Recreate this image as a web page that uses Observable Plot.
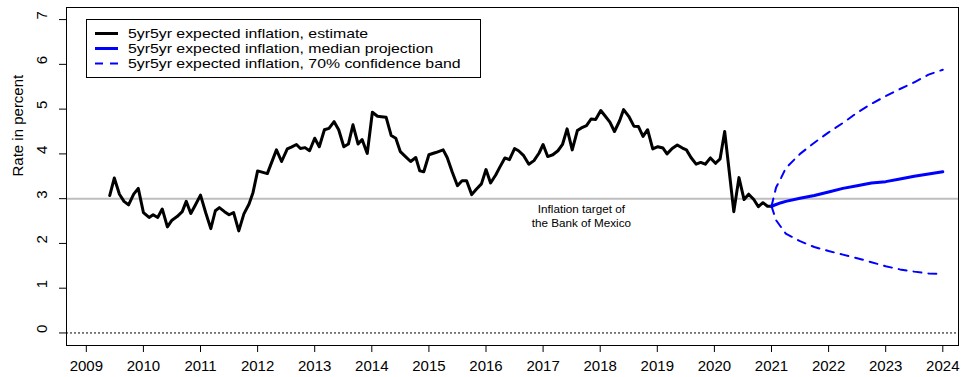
<!DOCTYPE html>
<html>
<head>
<meta charset="utf-8">
<script src="https://cdn.jsdelivr.net/npm/d3@7"></script>
<script src="https://cdn.jsdelivr.net/npm/@observablehq/plot@0.6"></script>
<style>
  body { margin: 0; background: #fff; font-family: "Liberation Sans", Arial, sans-serif; }
  #wrap { position: relative; width: 961px; height: 377px; overflow: hidden; }
  #legend { position: absolute; left: 86px; top: 19px; width: 395px; height: 59px;
            border: 1px solid #000; box-sizing: border-box; background: #fff; }
  .row { position: absolute; left: 0; height: 15px; width: 393px; }
  .row svg { position: absolute; left: 8px; top: 0; }
  .row span { position: absolute; display: block; left: 41px; top: 0; height: 15px;
              font-size: 13.2px; line-height: 15px; white-space: nowrap; color: #000;
              transform: scaleX(1.2); transform-origin: 0 50%; }
</style>
</head>
<body>
<div id="wrap"></div>
<script>
// ---- data ----
const estYear = [
  2009.41,2009.49,2009.58,2009.66,2009.74,2009.83,2009.91,2010.00,2010.10,2010.17,
  2010.25,2010.33,2010.42,2010.50,2010.59,2010.68,2010.75,2010.83,2010.91,2011.00,
  2011.09,2011.18,2011.26,2011.33,2011.42,2011.50,2011.58,2011.67,2011.76,2011.85,
  2011.92,2012.00,2012.17,2012.33,2012.42,2012.52,2012.59,2012.68,2012.75,2012.83,
  2012.91,2013.00,2013.08,2013.17,2013.25,2013.34,2013.42,2013.51,2013.59,2013.67,
  2013.76,2013.83,2013.92,2014.01,2014.10,2014.17,2014.25,2014.34,2014.42,2014.50,
  2014.59,2014.68,2014.77,2014.84,2014.91,2015.00,2015.12,2015.25,2015.32,2015.41,
  2015.50,2015.58,2015.66,2015.75,2015.83,2015.92,2016.00,2016.08,2016.17,2016.24,
  2016.33,2016.41,2016.50,2016.57,2016.66,2016.75,2016.84,2016.93,2017.00,2017.08,
  2017.17,2017.26,2017.34,2017.42,2017.51,2017.60,2017.67,2017.76,2017.84,2017.92,
  2018.01,2018.09,2018.17,2018.25,2018.34,2018.41,2018.50,2018.59,2018.67,2018.75,
  2018.83,2018.92,2019.01,2019.10,2019.17,2019.26,2019.35,2019.44,2019.51,2019.59,
  2019.68,2019.76,2019.84,2019.93,2020.02,2020.10,2020.18,2020.34,2020.43,2020.52,
  2020.60,2020.69,2020.77,2020.85,2020.93,2021.01
];
const estValue = [
  3.07,3.46,3.10,2.94,2.86,3.10,3.23,2.69,2.58,2.64,
  2.58,2.77,2.37,2.52,2.60,2.71,2.94,2.67,2.86,3.08,
  2.69,2.33,2.73,2.80,2.71,2.64,2.69,2.28,2.66,2.88,
  3.14,3.62,3.56,4.09,3.83,4.11,4.15,4.21,4.12,4.14,
  4.07,4.35,4.16,4.54,4.57,4.72,4.54,4.16,4.22,4.65,
  4.22,4.32,4.01,4.93,4.84,4.83,4.82,4.41,4.35,4.05,
  3.94,3.83,3.92,3.62,3.60,3.98,4.03,4.09,3.92,3.59,
  3.29,3.40,3.40,3.09,3.21,3.33,3.65,3.35,3.53,3.70,
  3.91,3.87,4.12,4.07,3.96,3.77,3.85,4.02,4.21,3.94,
  3.98,4.07,4.21,4.56,4.09,4.52,4.58,4.63,4.78,4.77,
  4.97,4.84,4.71,4.50,4.74,4.99,4.84,4.62,4.61,4.39,
  4.54,4.11,4.16,4.13,4.00,4.12,4.20,4.13,4.09,3.92,
  3.77,3.81,3.77,3.91,3.79,3.89,4.50,2.71,3.47,2.98,
  3.10,2.98,2.82,2.91,2.83,2.83
];
const projYear   = [2021.00,2021.08,2021.17,2021.25,2021.50,2021.75,2022.00,2022.25,2022.50,2022.75,2023.00,2023.25,2023.50,2023.75,2024.00];
const projMedian = [2.83,2.87,2.91,2.94,3.01,3.07,3.15,3.23,3.29,3.35,3.38,3.44,3.50,3.55,3.60];
const projUpper  = [2.83,3.25,3.47,3.68,4.00,4.25,4.48,4.69,4.92,5.12,5.29,5.45,5.60,5.77,5.88];
const projLower  = [2.83,2.52,2.36,2.22,2.05,1.92,1.83,1.75,1.67,1.58,1.49,1.42,1.37,1.33,1.32];
const xTicks = [2009,2010,2011,2012,2013,2014,2015,2016,2017,2018,2019,2020,2021,2022,2023,2024];
const yTicks = [0,1,2,3,4,5,6,7];
const targetValue = 3;
const legendLabels = [
  "5yr5yr expected inflation, estimate",
  "5yr5yr expected inflation, median projection",
  "5yr5yr expected inflation, 70% confidence band"
];
const noteText = "Inflation target of\nthe Bank of Mexico";
const notePos = {x: 2017.67, y: 2.62};

// ---- build tables ----
const est = estYear.map((x, i) => ({x, y: estValue[i]}));
const med = projYear.map((x, i) => ({x, y: projMedian[i]}));
const up  = projYear.map((x, i) => ({x, y: projUpper[i]}));
const lo  = projYear.map((x, i) => ({x, y: projLower[i]}));

const chart = Plot.plot({
  width: 961,
  height: 377,
  marginLeft: 66,
  marginRight: 3,
  marginTop: 7,
  marginBottom: 32,
  style: {fontFamily: "Liberation Sans, Arial, sans-serif", fontSize: "15px", background: "#fff", color: "#000"},
  x: {domain: [2008.653, 2024.275], label: null},
  y: {domain: [-0.28, 7.27], label: null},
  marks: [
    Plot.ruleY([targetValue], {stroke: "#bebebe", strokeWidth: 2}),
    Plot.ruleY([0], {stroke: "#000", strokeWidth: 1, strokeDasharray: "2,2"}),
    Plot.line(up, {x: "x", y: "y", stroke: "blue", strokeWidth: 2, strokeDasharray: "8,7", curve: "linear"}),
    Plot.line(lo, {x: "x", y: "y", stroke: "blue", strokeWidth: 2, strokeDasharray: "8,7", curve: "linear"}),
    Plot.line(est, {x: "x", y: "y", stroke: "#000", strokeWidth: 3, strokeLinejoin: "round"}),
    Plot.line(med, {x: "x", y: "y", stroke: "blue", strokeWidth: 3}),
    Plot.text([noteText], {x: () => notePos.x, y: () => notePos.y, text: d => d, fontSize: 11.7, lineHeight: 1.2, fill: "#000"}),
    Plot.frame({stroke: "#000", strokeWidth: 1}),
    Plot.axisX({ticks: xTicks, tickSize: 7, tickPadding: 8, tickFormat: d => String(d), label: null}),
    Plot.axisY({ticks: yTicks, tickSize: 7, tickFormat: () => "", label: null}),
    Plot.text(yTicks, {y: d => d, text: d => String(d), frameAnchor: "left", rotate: -90, dx: -24, fill: "#000"}),
    Plot.text(["Rate in percent"], {frameAnchor: "left", text: d => d, rotate: -90, dx: -48, fill: "#000"})
  ]
});
const wrap = document.getElementById("wrap");
wrap.appendChild(chart);

// legend overlay
const legend = document.createElement("div");
legend.id = "legend";
const swatches = [
  {stroke: "#000", dash: null, width: 3},
  {stroke: "blue", dash: null, width: 3},
  {stroke: "blue", dash: "8,7", width: 2}
];
legendLabels.forEach((lab, i) => {
  const row = document.createElement("div");
  row.className = "row";
  row.style.top = (5.5 + i * 15) + "px";
  const s = swatches[i];
  row.innerHTML = `<svg width="24" height="15"><line x1="0" x2="23" y1="7.5" y2="7.5" stroke="${s.stroke}" stroke-width="${s.width}" ${s.dash ? `stroke-dasharray="${s.dash}"` : ""}/></svg><span>${lab}</span>`;
  legend.appendChild(row);
});
wrap.appendChild(legend);
</script>
</body>
</html>
